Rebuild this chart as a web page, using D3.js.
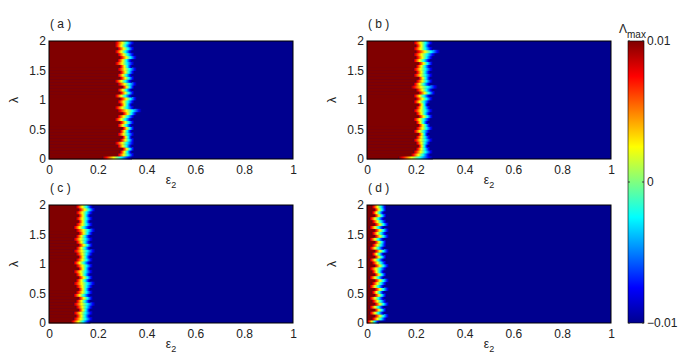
<!DOCTYPE html>
<html>
<head>
<meta charset="utf-8">
<script src="https://cdn.jsdelivr.net/npm/d3@7"></script>
<style>
  body { margin: 0; background: #fff; }
  text { font-family: "Liberation Sans", Arial, sans-serif; }
</style>
</head>
<body>
<div id="chart"></div>
<script>
// lambda rows (lower edge of each row, step 0.05)
const lambdaRows = [0, 0.05, 0.1, 0.15, 0.2, 0.25, 0.3, 0.35, 0.4, 0.45,
  0.5, 0.55, 0.6, 0.65, 0.7, 0.75, 0.8, 0.85, 0.9, 0.95,
  1, 1.05, 1.1, 1.15, 1.2, 1.25, 1.3, 1.35, 1.4, 1.45,
  1.5, 1.55, 1.6, 1.65, 1.7, 1.75, 1.8, 1.85, 1.9, 1.95];

// eps2 where Lambda_max stops being +0.01 (red edge) and reaches -0.01 (blue edge)
const redA = [0.22, 0.28, 0.29, 0.30, 0.28, 0.27, 0.29, 0.30, 0.28, 0.29,
  0.30, 0.28, 0.29, 0.27, 0.28, 0.30, 0.28, 0.27, 0.29, 0.28,
  0.29, 0.27, 0.29, 0.28, 0.30, 0.28, 0.27, 0.29, 0.28, 0.29,
  0.28, 0.29, 0.27, 0.28, 0.29, 0.28, 0.27, 0.28, 0.27, 0.27];
const blueA = [0.34, 0.35, 0.34, 0.35, 0.34, 0.35, 0.35, 0.34, 0.35, 0.34,
  0.35, 0.34, 0.35, 0.34, 0.35, 0.36, 0.38, 0.35, 0.34, 0.35,
  0.36, 0.34, 0.35, 0.34, 0.35, 0.36, 0.34, 0.35, 0.34, 0.35,
  0.36, 0.34, 0.35, 0.34, 0.36, 0.35, 0.34, 0.35, 0.34, 0.35];

const redB = [0.13, 0.18, 0.19, 0.20, 0.21, 0.20, 0.19, 0.20, 0.21, 0.19,
  0.20, 0.21, 0.20, 0.19, 0.21, 0.20, 0.19, 0.20, 0.21, 0.19,
  0.20, 0.19, 0.21, 0.20, 0.18, 0.19, 0.20, 0.21, 0.19, 0.20,
  0.19, 0.20, 0.21, 0.19, 0.20, 0.19, 0.20, 0.19, 0.20, 0.19];
const blueB = [0.27, 0.26, 0.27, 0.26, 0.25, 0.26, 0.27, 0.26, 0.25, 0.26,
  0.27, 0.26, 0.25, 0.26, 0.27, 0.26, 0.27, 0.26, 0.25, 0.26,
  0.27, 0.26, 0.28, 0.27, 0.29, 0.26, 0.27, 0.26, 0.27, 0.26,
  0.27, 0.26, 0.27, 0.26, 0.27, 0.28, 0.30, 0.27, 0.26, 0.27];

const redC = [0.09, 0.10, 0.11, 0.10, 0.12, 0.11, 0.10, 0.11, 0.12, 0.10,
  0.11, 0.12, 0.11, 0.10, 0.11, 0.12, 0.11, 0.10, 0.12, 0.11,
  0.10, 0.11, 0.12, 0.11, 0.10, 0.11, 0.12, 0.11, 0.10, 0.11,
  0.12, 0.11, 0.10, 0.11, 0.12, 0.11, 0.12, 0.11, 0.12, 0.11];
const blueC = [0.17, 0.18, 0.17, 0.18, 0.17, 0.18, 0.19, 0.17, 0.18, 0.17,
  0.18, 0.17, 0.18, 0.19, 0.17, 0.18, 0.17, 0.18, 0.17, 0.18,
  0.17, 0.18, 0.17, 0.18, 0.19, 0.17, 0.18, 0.17, 0.18, 0.17,
  0.18, 0.19, 0.17, 0.18, 0.17, 0.18, 0.17, 0.18, 0.19, 0.18];

const redD = [0.00, 0.02, 0.03, 0.01, 0.03, 0.01, 0.03, 0.02, 0.01, 0.03,
  0.02, 0.03, 0.01, 0.02, 0.03, 0.01, 0.03, 0.02, 0.01, 0.03,
  0.02, 0.01, 0.03, 0.02, 0.03, 0.01, 0.02, 0.03, 0.01, 0.03,
  0.02, 0.03, 0.01, 0.03, 0.02, 0.01, 0.03, 0.02, 0.03, 0.02];
const blueD = [0.05, 0.08, 0.09, 0.07, 0.08, 0.07, 0.09, 0.08, 0.07, 0.08,
  0.07, 0.09, 0.07, 0.08, 0.09, 0.07, 0.08, 0.07, 0.08, 0.09,
  0.08, 0.07, 0.08, 0.07, 0.09, 0.07, 0.08, 0.08, 0.07, 0.09,
  0.08, 0.09, 0.07, 0.09, 0.08, 0.07, 0.08, 0.07, 0.08, 0.08];

const panelLabels = ["( a )", "( b )", "( c )", "( d )"];
const xTicks = [0, 0.2, 0.4, 0.6, 0.8, 1];
const yTicks = [0, 0.5, 1, 1.5, 2];
const cbTicks = [-0.01, 0, 0.01];

const ROW_STEP = 0.05;
const TEXT_COLOR = "#222";
const JET = [
  [0, "#00008f"], [0.125, "#0000ff"], [0.375, "#00ffff"],
  [0.625, "#ffff00"], [0.875, "#ff0000"], [1, "#800000"]
];

const width = 680, height = 360;
const panelW = 244, panelH = 118;
const panels = [
  { x: 49, y: 41, red: redA, blue: blueA, label: panelLabels[0] },
  { x: 367, y: 41, red: redB, blue: blueB, label: panelLabels[1] },
  { x: 49, y: 205, red: redC, blue: blueC, label: panelLabels[2] },
  { x: 367, y: 205, red: redD, blue: blueD, label: panelLabels[3] }
];

const svg = d3.select("#chart")
  .append("svg")
  .attr("width", width)
  .attr("height", height);

const defs = svg.append("defs");

// horizontal jet: +0.01 on the left -> -0.01 on the right
const gH = defs.append("linearGradient")
  .attr("id", "jet-h")
  .attr("x1", "0%").attr("x2", "100%").attr("y1", "0%").attr("y2", "0%");
JET.slice().reverse().forEach(s => {
  gH.append("stop").attr("offset", (1 - s[0]) * 100 + "%").attr("stop-color", s[1]);
});

// vertical jet for the colorbar
const gV = defs.append("linearGradient")
  .attr("id", "jet-v")
  .attr("x1", "0%").attr("x2", "0%").attr("y1", "100%").attr("y2", "0%");
JET.forEach(s => {
  gV.append("stop").attr("offset", s[0] * 100 + "%").attr("stop-color", s[1]);
});

const xScale = d3.scaleLinear().domain([0, 1]).range([0, panelW]);
const yScale = d3.scaleLinear().domain([0, 2]).range([panelH, 0]);

panels.forEach(p => {
  const g = svg.append("g").attr("transform", `translate(${p.x},${p.y})`);

  g.append("rect")
    .attr("width", panelW)
    .attr("height", panelH)
    .attr("fill", JET[0][1]);

  const rows = lambdaRows.map((l, i) => ({ l: l, red: p.red[i], blue: p.blue[i] }));

  const row = g.selectAll(".row")
    .data(rows)
    .enter()
    .append("g")
    .attr("class", "row");

  row.append("rect")
    .attr("x", 0)
    .attr("y", d => yScale(d.l + ROW_STEP))
    .attr("width", d => xScale(d.red))
    .attr("height", d => yScale(d.l) - yScale(d.l + ROW_STEP) + 0.4)
    .attr("fill", JET[5][1]);

  row.append("rect")
    .attr("x", d => xScale(d.red))
    .attr("y", d => yScale(d.l + ROW_STEP))
    .attr("width", d => xScale(d.blue) - xScale(d.red))
    .attr("height", d => yScale(d.l) - yScale(d.l + ROW_STEP) + 0.4)
    .attr("fill", "url(#jet-h)");

  // box
  g.append("rect")
    .attr("width", panelW)
    .attr("height", panelH)
    .attr("fill", "none")
    .attr("stroke", "#000")
    .attr("stroke-width", 1);

  const xAxis = g.append("g")
    .attr("transform", `translate(0,${panelH})`)
    .call(d3.axisBottom(xScale).tickValues(xTicks).tickSize(0).tickPadding(6)
      .tickFormat(d3.format("~g")));
  xAxis.select(".domain").remove();
  xAxis.selectAll("text").attr("fill", TEXT_COLOR).style("font-size", "12px")
    .style("font-family", "'Liberation Sans', Arial, sans-serif");

  const yAxis = g.append("g")
    .call(d3.axisLeft(yScale).tickValues(yTicks).tickSize(0).tickPadding(3)
      .tickFormat(d3.format("~g")));
  yAxis.select(".domain").remove();
  yAxis.selectAll("text").attr("fill", TEXT_COLOR).style("font-size", "12px")
    .style("font-family", "'Liberation Sans', Arial, sans-serif");

  // x label eps_2
  const xl = g.append("text")
    .attr("x", panelW / 2)
    .attr("y", panelH + 25)
    .attr("text-anchor", "middle")
    .attr("fill", TEXT_COLOR)
    .style("font-size", "12px");
  xl.append("tspan").text("ε");
  xl.append("tspan").attr("dy", 4).style("font-size", "9px").text("2");

  // y label lambda
  g.append("text")
    .attr("transform", `translate(-31,${panelH / 2}) rotate(-90)`)
    .attr("text-anchor", "middle")
    .attr("fill", TEXT_COLOR)
    .style("font-size", "12px")
    .text("λ");

  // panel label
  g.append("text")
    .attr("x", 1)
    .attr("y", -13)
    .attr("fill", TEXT_COLOR)
    .style("font-size", "12px")
    .text(p.label);
});

// colorbar
const cbX = 628, cbW = 16, cbTop = 41, cbBottom = 323;
const cbScale = d3.scaleLinear().domain([-0.01, 0.01]).range([cbBottom, cbTop]);

const cb = svg.append("g");
cb.append("rect")
  .attr("x", cbX)
  .attr("y", cbTop)
  .attr("width", cbW)
  .attr("height", cbBottom - cbTop)
  .attr("fill", "url(#jet-v)");

cb.selectAll(".cbtick")
  .data(cbTicks)
  .enter()
  .append("path")
  .attr("class", "cbtick")
  .attr("d", d => `M${cbX},${cbScale(d)}h2M${cbX + cbW},${cbScale(d)}h-2`)
  .attr("stroke", "#444")
  .attr("stroke-width", 1);

cb.append("rect")
  .attr("x", cbX)
  .attr("y", cbTop)
  .attr("width", cbW)
  .attr("height", cbBottom - cbTop)
  .attr("fill", "none")
  .attr("stroke", "#000")
  .attr("stroke-width", 0.6);

const cbAxis = cb.append("g")
  .attr("transform", `translate(${cbX + cbW},0)`)
  .call(d3.axisRight(cbScale).tickValues(cbTicks).tickSize(0).tickPadding(3)
    .tickFormat(d => d === 0 ? "0" : d3.format(".2f")(d)));
cbAxis.select(".domain").remove();
cbAxis.selectAll("text").attr("fill", TEXT_COLOR).style("font-size", "12px")
  .style("font-family", "'Liberation Sans', Arial, sans-serif");

const cbLabel = cb.append("text")
  .attr("x", 619)
  .attr("y", 33)
  .attr("fill", TEXT_COLOR)
  .style("font-size", "12px");
cbLabel.append("tspan").text("Λ");
cbLabel.append("tspan").attr("dy", 5).style("font-size", "10px").text("max");
</script>
</body>
</html>
